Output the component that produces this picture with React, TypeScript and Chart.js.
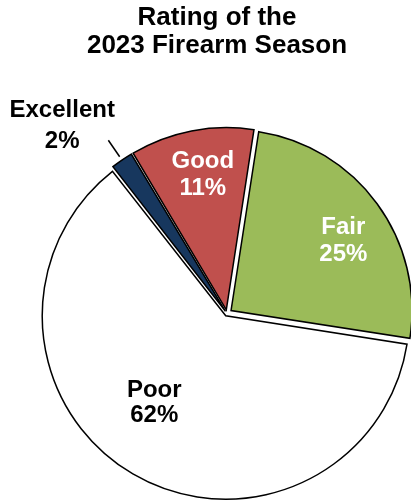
import React, { useEffect, useRef } from 'react';
import { Chart, registerables } from 'chart.js';

Chart.register(...registerables);

// ---- data ----
const TITLE_LINES = ['Rating of the', '2023 Firearm Season'];
const CATEGORIES = ['Excellent', 'Good', 'Fair', 'Poor'];
const VALUES = [2, 11, 25, 62];
const VALUE_LABELS = ['2%', '11%', '25%', '62%'];

// ---- style ----
const COLORS = ['#17375E', '#C0504D', '#9BBB59', '#FFFFFF'];
const OFFSETS = [10.7, 14.7, 20, 10];
const FONT = "'Liberation Sans', Arial, sans-serif";
const PIE_RADIUS = 181;
const PIE_ROTATION = -38;
const PIE_DX = 10;
const PIE_DY = 33.5;

// radial factor, dx, dy, text colour, line spacing, leader
const LABEL_STYLE = [
  { rf: 1.377, dx: -24, dy: 16.4, color: '#000000', ls: 31, leader: true },
  { rf: 0.786, dx: 3, dy: -0.6, color: '#FFFFFF', ls: 27, leader: false },
  { rf: 0.763, dx: 4.9, dy: 6.7, color: '#FFFFFF', ls: 27, leader: false },
  { rf: 0.617, dx: -16.2, dy: -9.4, color: '#000000', ls: 25, leader: false },
];
const LABEL_SIZE = 24;

export default function App() {
  const ref = useRef<HTMLCanvasElement | null>(null);

  useEffect(() => {
    const canvas = ref.current;
    if (!canvas) return;

    const shiftPlugin = {
      id: 'pieShift',
      afterLayout(chart: any) {
        const a = chart.chartArea;
        a.left += PIE_DX;
        a.right += PIE_DX;
        a.top += PIE_DY;
        a.bottom += PIE_DY;
      },
    };

    const labelPlugin = {
      id: 'sliceLabels',
      afterDatasetsDraw(chart: any) {
        const ctx = chart.ctx as CanvasRenderingContext2D;
        const meta = chart.getDatasetMeta(0);
        meta.data.forEach((arc: any, i: number) => {
          const { x, y, startAngle, endAngle, outerRadius } = arc.getProps(
            ['x', 'y', 'startAngle', 'endAngle', 'outerRadius'],
            true
          );
          const mid = (startAngle + endAngle) / 2;
          const c = Math.cos(mid);
          const s = Math.sin(mid);
          const st = LABEL_STYLE[i];
          ctx.save();
          if (st.leader) {
            ctx.beginPath();
            ctx.strokeStyle = '#000000';
            ctx.lineWidth = 1.5;
            ctx.moveTo(x + c * (outerRadius + 9), y + s * (outerRadius + 9));
            ctx.lineTo(x + c * (outerRadius + 29), y + s * (outerRadius + 29));
            ctx.stroke();
          }
          const cx = x + c * outerRadius * st.rf + st.dx;
          const cy = y + s * outerRadius * st.rf + st.dy;
          const lines = [CATEGORIES[i], VALUE_LABELS[i]];
          ctx.font = `bold ${LABEL_SIZE}px ${FONT}`;
          ctx.fillStyle = st.color;
          ctx.textAlign = 'center';
          ctx.textBaseline = 'alphabetic';
          const capH = 0.716 * LABEL_SIZE;
          lines.forEach((t, k) => {
            const by = cy + (k - (lines.length - 1) / 2) * st.ls + capH / 2;
            ctx.fillText(t, cx, by);
          });
          ctx.restore();
        });
      },
    };

    const chart = new Chart(canvas, {
      type: 'pie',
      data: {
        labels: CATEGORIES,
        datasets: [
          {
            data: VALUES,
            backgroundColor: COLORS,
            borderColor: '#000000',
            borderWidth: 1.5,
            borderJoinStyle: 'miter',
            offset: OFFSETS,
            clip: false,
            radius: PIE_RADIUS,
            rotation: PIE_ROTATION,
          } as any,
        ],
      },
      options: {
        responsive: false,
        animation: false,
        radius: PIE_RADIUS,
        rotation: PIE_ROTATION,
        layout: { padding: { left: 23, right: 0, top: 0, bottom: 0 } },
        plugins: {
          legend: { display: false },
          tooltip: { enabled: false },
          title: {
            display: true,
            text: TITLE_LINES,
            color: '#000000',
            font: { family: FONT, size: 26, weight: 'bold', lineHeight: 1.088 },
            padding: { top: 3.5, bottom: 0 },
          },
        },
      } as any,
      plugins: [shiftPlugin, labelPlugin],
    });

    return () => {
      chart.destroy();
    };
  }, []);

  return (
    <div
      style={{
        position: 'fixed',
        left: 0,
        top: 0,
        width: 411,
        height: 500,
        overflow: 'hidden',
        background: '#FFFFFF',
      }}
    >
      <canvas ref={ref} width={411} height={500} style={{ display: 'block' }} />
    </div>
  );
}
